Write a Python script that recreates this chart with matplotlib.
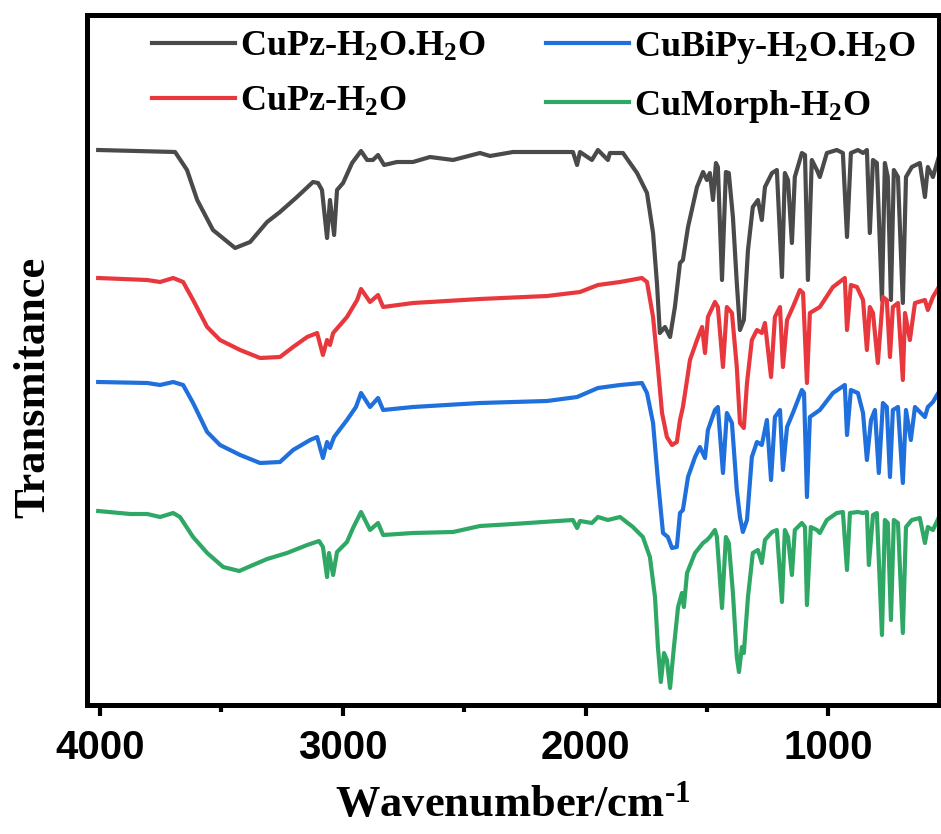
import matplotlib
matplotlib.use('Agg')
import matplotlib.pyplot as plt
from matplotlib.ticker import MultipleLocator

# FTIR spectra (wavenumber in cm-1, transmittance in a.u., curves already offset)
wn_cupz_hh = [4008, 3691, 3642, 3600, 3535, 3444, 3382, 3312, 3259, 3189, 3123, 3102, 3086, 3065, 3053,
              3036, 3024, 2999, 2962, 2925, 2900, 2876, 2855, 2830, 2777, 2711, 2641, 2546, 2435, 2394,
              2299, 2052, 2035, 2023, 1974, 1949, 1908, 1900, 1846, 1788, 1747, 1722, 1706, 1694, 1673,
              1652, 1632, 1611, 1599, 1578, 1541, 1516, 1500, 1488, 1475, 1463, 1455, 1438, 1422, 1410,
              1393, 1377, 1364, 1348, 1331, 1311, 1290, 1274, 1261, 1232, 1212, 1191, 1179, 1166, 1150,
              1138, 1109, 1096, 1084, 1068, 1047, 1035, 1006, 965, 940, 923, 907, 878, 857, 841,
              829, 816, 800, 779, 767, 755, 742, 730, 713, 693, 680, 656, 623, 602, 590,
              569, 540]
t_cupz_hh = [555, 553, 535, 505, 475, 457, 463, 483, 493, 508, 523, 522, 515, 467, 505,
             470, 515, 522, 542, 554, 545, 545, 550, 540, 543, 543, 548, 545, 552, 549,
             553, 553, 540, 553, 545, 555, 545, 552, 552, 532, 512, 472, 422, 372, 378,
             368, 398, 442, 445, 478, 518, 533, 525, 532, 505, 542, 538, 425, 533, 532,
             488, 422, 375, 385, 455, 498, 505, 485, 518, 532, 535, 428, 532, 525, 462,
             528, 552, 550, 425, 545, 535, 528, 552, 555, 552, 468, 552, 555, 552, 555,
             472, 545, 542, 405, 542, 528, 405, 535, 528, 402, 528, 538, 542, 508, 538,
             528, 552]

wn_cupz_h = [4008, 3806, 3753, 3699, 3658, 3617, 3559, 3506, 3423, 3341, 3259, 3205, 3147, 3106, 3082,
             3065, 3053, 3040, 2983, 2941, 2925, 2888, 2855, 2834, 2711, 2435, 2159, 2023, 1949, 1858,
             1768, 1747, 1722, 1702, 1685, 1665, 1644, 1624, 1611, 1599, 1582, 1570, 1541, 1520, 1508,
             1496, 1467, 1455, 1434, 1418, 1397, 1377, 1364, 1348, 1335, 1315, 1294, 1274, 1261, 1236,
             1220, 1199, 1187, 1170, 1146, 1117, 1104, 1088, 1076, 1035, 981, 932, 923, 907, 882,
             857, 841, 829, 816, 796, 775, 759, 746, 734, 713, 693, 684, 664, 643, 602,
             590, 569, 540]
t_cupz_h = [427, 425, 423, 427, 423, 405, 378, 365, 355, 347, 348, 358, 368, 372, 350,
            365, 360, 372, 388, 405, 416, 403, 410, 398, 402, 406, 409, 413, 420, 423,
            427, 423, 388, 338, 292, 268, 260, 263, 285, 298, 325, 345, 365, 378, 352,
            388, 403, 398, 338, 398, 392, 338, 282, 277, 322, 365, 375, 372, 382, 328,
            388, 398, 338, 385, 398, 415, 412, 322, 392, 398, 418, 427, 375, 420, 418,
            405, 355, 398, 392, 342, 408, 405, 348, 398, 402, 325, 392, 365, 402, 405,
            395, 408, 420]

wn_cubipy = [4008, 3806, 3753, 3699, 3658, 3617, 3559, 3506, 3423, 3341, 3259, 3205, 3135, 3106, 3082,
             3065, 3053, 3036, 2983, 2946, 2925, 2888, 2855, 2834, 2711, 2435, 2159, 2035, 1949, 1858,
             1768, 1747, 1722, 1702, 1681, 1661, 1644, 1624, 1611, 1599, 1578, 1549, 1529, 1508, 1496,
             1467, 1455, 1434, 1418, 1397, 1377, 1364, 1352, 1335, 1315, 1294, 1274, 1253, 1236, 1220,
             1199, 1187, 1170, 1146, 1109, 1100, 1088, 1076, 1035, 981, 932, 923, 907, 878, 857,
             841, 824, 808, 792, 775, 759, 746, 734, 713, 693, 680, 660, 643, 602, 590,
             569, 540]
t_cubipy = [323, 322, 320, 323, 320, 302, 273, 260, 250, 242, 243, 255, 265, 268, 247,
            263, 257, 268, 285, 298, 312, 298, 307, 295, 298, 302, 304, 308, 317, 320,
            322, 312, 282, 225, 172, 168, 157, 158, 192, 195, 228, 248, 258, 247, 275,
            295, 298, 232, 292, 282, 215, 188, 173, 185, 248, 263, 260, 285, 225, 288,
            295, 235, 278, 292, 315, 312, 208, 288, 295, 312, 320, 270, 315, 312, 292,
            245, 285, 295, 232, 302, 298, 228, 295, 298, 222, 295, 265, 298, 288, 298,
            303, 315]

wn_cumorph = [4008, 3876, 3806, 3753, 3699, 3671, 3617, 3559, 3493, 3427, 3370, 3312, 3230, 3147, 3098,
              3082, 3065, 3057, 3040, 3024, 2983, 2958, 2925, 2888, 2855, 2834, 2711, 2546, 2435, 2299,
              2052, 2035, 2023, 1974, 1949, 1908, 1858, 1805, 1764, 1735, 1714, 1702, 1690, 1677, 1665,
              1652, 1636, 1619, 1603, 1595, 1582, 1549, 1516, 1500, 1488, 1467, 1459, 1438, 1422, 1410,
              1393, 1377, 1368, 1356, 1348, 1331, 1311, 1290, 1274, 1261, 1232, 1212, 1191, 1179, 1166,
              1150, 1138, 1109, 1096, 1088, 1072, 1047, 1035, 1006, 965, 940, 923, 911, 878, 857,
              841, 833, 816, 800, 779, 767, 755, 742, 730, 713, 693, 680, 656, 623, 602,
              590, 569, 540]
t_cumorph = [194, 191, 191, 188, 192, 188, 168, 152, 138, 134, 140, 146, 152, 160, 164,
             158, 128, 152, 130, 153, 163, 177, 193, 175, 182, 170, 172, 173, 179, 181,
             185, 177, 184, 182, 188, 185, 188, 178, 168, 148, 108, 58, 23, 52, 45,
             17, 58, 98, 112, 98, 132, 152, 162, 165, 168, 175, 168, 97, 168, 162,
             112, 48, 33, 58, 52, 108, 152, 155, 142, 165, 173, 175, 103, 175, 168,
             130, 175, 182, 178, 100, 178, 175, 172, 185, 192, 193, 135, 192, 193, 192,
             193, 140, 190, 192, 70, 185, 182, 85, 185, 182, 72, 178, 185, 187, 162,
             178, 175, 190]

labels = ['CuPz-H$_2$O.H$_2$O', 'CuPz-H$_2$O', 'CuBiPy-H$_2$O.H$_2$O', 'CuMorph-H$_2$O']
colors = ['#4a4a4a', '#e8383d', '#1f6fdc', '#2fa866']

plt.rcParams['font.family'] = 'Liberation Serif'
plt.rcParams['font.weight'] = 'bold'
plt.rcParams['mathtext.fontset'] = 'custom'
plt.rcParams['mathtext.rm'] = 'Liberation Serif:bold'
plt.rcParams['mathtext.bf'] = 'Liberation Serif:bold'
plt.rcParams['mathtext.default'] = 'bf'

fig = plt.figure(figsize=(9.41, 8.34), dpi=100)
ax = fig.add_axes([87 / 941, 129 / 834, 852 / 941, 690 / 834])

series = [(wn_cupz_hh, t_cupz_hh), (wn_cupz_h, t_cupz_h), (wn_cubipy, t_cubipy), (wn_cumorph, t_cumorph)]
for (wn, t), lab, col in zip(series, labels, colors):
    ax.plot(wn, t, color=col, lw=3.0, label=lab, solid_joinstyle='round')

ax.set_xlim(4054, 544)
ax.set_ylim(0, 690)
ax.set_yticks([])
ax.xaxis.set_major_locator(MultipleLocator(1000))
ax.xaxis.set_minor_locator(MultipleLocator(500))
ax.tick_params(axis='x', which='major', direction='out', length=8, width=3, pad=9)
ax.tick_params(axis='x', which='minor', direction='out', length=5, width=3)
for lbl in ax.get_xticklabels():
    lbl.set_fontfamily('Liberation Sans')
    lbl.set_fontweight('bold')
    lbl.set_fontsize(29)
for sp in ax.spines.values():
    sp.set_linewidth(3.6)

ax.set_xlabel(r'Wavenumber/cm$^{\text{-1}}$', fontsize=32, fontweight='bold')
ax.xaxis.set_label_coords(0.5, -0.115)
ax.set_ylabel('Transmitance', fontsize=32, fontweight='bold')
ax.yaxis.set_label_coords(-0.04, 0.46)

ax.legend(loc='upper left', bbox_to_anchor=(152 / 941, 1 - 29 / 834), bbox_transform=fig.transFigure,
          ncol=2, frameon=False, fontsize=26, handlelength=2.3, handletextpad=0.15,
          columnspacing=1.65, labelspacing=0.6, borderpad=0, borderaxespad=0)

fig.savefig('out.png', dpi=100)
